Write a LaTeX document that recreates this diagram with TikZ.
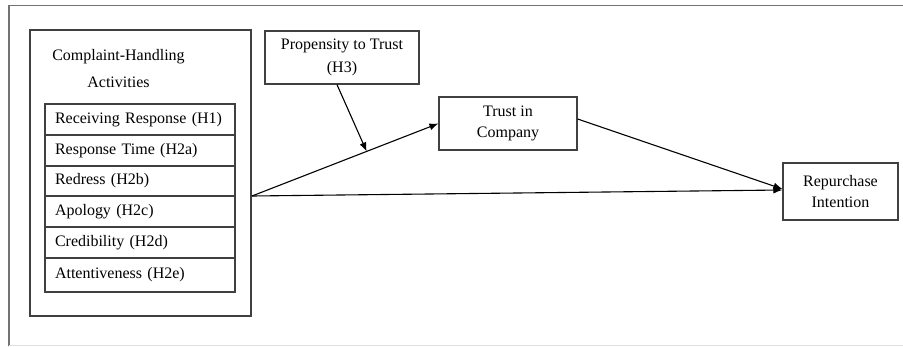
\documentclass[tikz,border=0pt]{standalone}
\usepackage{fontspec}
\setmainfont{Liberation Serif}
\usetikzlibrary{arrows.meta}

\begin{document}
\begin{tikzpicture}[x=1pt,y=-1pt,font=\fontsize{16}{21}\selectfont,
  box/.style={draw=black!75,line width=1.2pt,align=center,inner sep=0pt},
  item/.style={draw=black!75,line width=1.2pt,minimum width=190pt,text width=170pt,
    align=left,inner xsep=10pt,inner ysep=0pt},
  arr/.style={line width=1.1pt,-{Latex[length=9pt,width=7pt]}}]
\useasboundingbox (0,0) rectangle (903,346);
% frame
\draw[black!55,line width=1.5pt] (9,346) -- (9,5.5) -- (903,5.5);
\draw[black!12] (9,345) -- (903,345);

\node[box,minimum width=221pt,minimum height=286pt] (cha) at (140.5,173) {};
\node[align=center,font=\fontsize{16}{27}\selectfont] (title) at (118.5,68.5)
  {Complaint-Handling\\Activities};

\node[item,minimum height=31pt] (rr) at (140,119.5) {Receiving Response (H1)};
\node[item,minimum height=31pt] (rt) at (140,150.5) {Response Time (H2a)};
\node[item,minimum height=30pt] (rd) at (140,181) {Redress (H2b)};
\node[item,minimum height=31pt] (ap) at (140,211.5) {Apology (H2c)};
\node[item,minimum height=31pt] (cr) at (140,242.5) {Credibility (H2d)};
\node[item,minimum height=34pt] (at) at (140,275) {Attentiveness (H2e)};

\node[box,minimum width=154pt,minimum height=53pt,font=\fontsize{16}{23}\selectfont]
  (prop) at (342,57.5) {Propensity to Trust\\(H3)};
\node[box,minimum width=138pt,minimum height=53pt] (trust) at (508,123.5) {Trust in\\Company};
\node[box,minimum width=115pt,minimum height=57pt] (rep) at (840.5,191.5) {Repurchase\\Intention};

\coordinate (src) at (252,196);
\draw[arr] (src) -- coordinate[pos=0.615] (mod) (trust.west);
\draw[arr] ([xshift=-5pt]prop.south) -- (mod);
\draw[arr] ([yshift=4.5pt]trust.east) -- ([yshift=2.5pt]rep.west);
\draw[arr] (src) -- ([yshift=1.5pt]rep.west);

\end{tikzpicture}
\end{document}
